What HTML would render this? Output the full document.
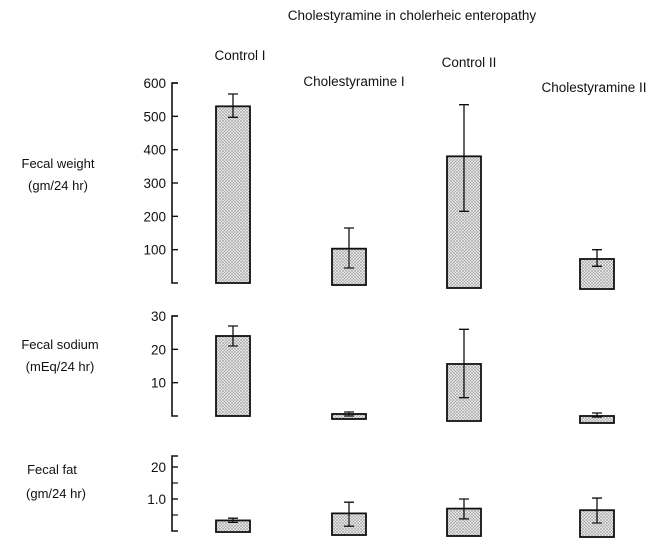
<!DOCTYPE html>
<html><head><meta charset="utf-8"><style>
body{margin:0;background:#fff}
svg text{font-family:"Liberation Sans","DejaVu Sans",sans-serif;fill:#111}
</style></head><body>
<svg id="chart" width="667" height="541" viewBox="0 0 667 541" xmlns="http://www.w3.org/2000/svg">
<defs>
<pattern id="dots" width="3" height="3" patternUnits="userSpaceOnUse">
<rect width="3" height="3" fill="#e4e4e4"/>
<circle cx="1" cy="1" r="0.6" fill="#555"/>
<circle cx="2.5" cy="2.4" r="0.45" fill="#777"/>
</pattern>
</defs>
<text x="412" y="20" font-size="13.5" text-anchor="middle">Cholestyramine in cholerheic enteropathy</text>
<text x="240" y="60" font-size="13.5" text-anchor="middle">Control I</text>
<text x="354" y="86" font-size="13.5" text-anchor="middle">Cholestyramine I</text>
<text x="469" y="67" font-size="13.5" text-anchor="middle">Control II</text>
<text x="594" y="92" font-size="13.5" text-anchor="middle">Cholestyramine II</text>
<text font-size="13" text-anchor="middle"><tspan x="58" y="168">Fecal weight</tspan><tspan x="58" y="190">(gm/24 hr)</tspan></text>
<text font-size="13" text-anchor="middle"><tspan x="60" y="349">Fecal sodium</tspan><tspan x="60" y="371">(mEq/24 hr)</tspan></text>
<text font-size="13" text-anchor="middle"><tspan x="52" y="474">Fecal fat</tspan><tspan x="56" y="498">(gm/24 hr)</tspan></text>
<g id="plot"></g>
</svg>
<script>
const categories = ["Control I","Cholestyramine I","Control II","Cholestyramine II"];
const weightValues = [530, 103, 380, 72];
const weightErrHigh = [567, 165, 535, 100];
const weightErrLow = [497, 45, 215, 50];
const sodiumValues = [24, 0.6, 15.6, 0];
const sodiumErrHigh = [27, 1.2, 26, 0.9];
const sodiumErrLow = [21, 0, 5.5, -0.3];
const fatValues = [0.33, 0.55, 0.7, 0.65];
const fatErrHigh = [0.4, 0.9, 1.0, 1.03];
const fatErrLow = [0.27, 0.15, 0.38, 0.25];
const weightTicks = [100,200,300,400,500,600];
const sodiumTicks = [10,20,30];
const fatTickLabels = ["1.0","20"];
const fatTickValues = [1,2];

const NS="http://www.w3.org/2000/svg";
const plot=document.getElementById('plot');
function mk(tag,attrs){const e=document.createElementNS(NS,tag);for(const k in attrs)e.setAttribute(k,attrs[k]);plot.appendChild(e);return e;}
const barX=[216,332,447,580], barW=34;

function panel(name,y0,pxPerUnit,ymax,ticks,tickLabels,minor,vals,hi,lo,yTop,extraBottom){
  const y=v=>y0-v*pxPerUnit;
  const ax=mk('path',{d:`M178 ${yTop} H172 V${y0} H178`,stroke:'#111','stroke-width':1.6,fill:'none'});
  
  
  ticks.forEach((t,i)=>{
    const l=mk('line',{x1:172,x2:178,y1:y(t),y2:y(t),stroke:'#111','stroke-width':1.4});
    
    
    const tx=mk('text',{x:166,y:y(t)+5,'font-size':13.5,'text-anchor':'end'});
    tx.textContent=tickLabels[i];
    
    
  });
  minor.forEach(t=>{
    const l=mk('line',{x1:172,x2:178,y1:y(t),y2:y(t),stroke:'#111','stroke-width':1.2});
    
    
  });
  vals.forEach((v,i)=>{
    const top=y(v), bot=y0+extraBottom[i];
    const r=mk('rect',{x:barX[i],y:Math.min(top,bot-5),width:barW,height:Math.max(bot-top,5),fill:'url(#dots)',stroke:'#111','stroke-width':1.8});
    
    
    const cx=barX[i]+barW/2;
    const e=mk('path',{d:`M${cx-5} ${y(hi[i])} H${cx+5} M${cx} ${y(hi[i])} V${y(lo[i])} M${cx-5} ${y(lo[i])} H${cx+5}`,stroke:'#111','stroke-width':1.3,fill:'none'});
    
    
  });
}
panel('weight',283,200/600*1,600,weightTicks,weightTicks.map(String),[],weightValues,weightErrHigh,weightErrLow,83,[0,2,5,6]);
panel('sodium',416,100/30,30,sodiumTicks,sodiumTicks.map(String),[],sodiumValues,sodiumErrHigh,sodiumErrLow,316,[0,3,5,7]);
panel('fat',531,32,2,fatTickValues,fatTickLabels,[0.5,1.5],fatValues,fatErrHigh,fatErrLow,456,[1,4,5,6]);
</script>
</body></html>
